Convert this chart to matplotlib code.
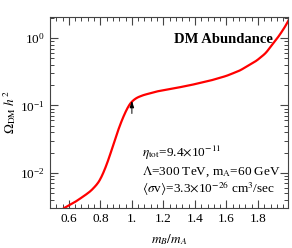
import matplotlib.pyplot as plt
import numpy as np
from matplotlib.ticker import MultipleLocator, LogLocator, NullFormatter, FixedFormatter, FixedLocator

# curve
mB = [0.57, 0.64, 0.70, 0.74, 0.78, 0.80, 0.83, 0.86, 0.89, 0.92, 0.95, 0.98, 1.00,
      1.03, 1.07, 1.16, 1.27, 1.37, 1.50, 1.60, 1.685, 1.79, 1.85, 1.89, 1.93, 1.97, 1.995]
omega = [0.0030, 0.0037, 0.0046, 0.0054, 0.0068, 0.0080, 0.0115, 0.018, 0.030, 0.048, 0.072,
         0.100, 0.115, 0.130, 0.142, 0.162, 0.180, 0.200, 0.235, 0.275, 0.330, 0.46, 0.60,
         0.80, 1.05, 1.45, 1.85]

plt.rcParams['font.family'] = ['Liberation Serif', 'DejaVu Serif']
plt.rcParams['mathtext.fontset'] = 'stix'

fig = plt.figure(figsize=(2.92, 2.48), dpi=100)
ax = fig.add_axes([0.171, 0.161, 0.815, 0.770])

# smooth in log space
xs = np.linspace(mB[0], mB[-1], 500)
ys = np.interp(xs, mB, np.log10(omega))
k = np.ones(11) / 11
ys_s = np.convolve(np.pad(ys, 5, mode='reflect', reflect_type='odd'), k, mode='valid')
ax.plot(xs, 10 ** ys_s, color='#ff0000', lw=1.6)

ax.set_yscale('log')
ax.set_xlim(0.48, 1.99)
ax.set_ylim(0.003, 2.05)

ax.xaxis.set_major_locator(FixedLocator([0.6, 0.8, 1.0, 1.2, 1.4, 1.6, 1.8]))
ax.xaxis.set_major_formatter(FixedFormatter(['0.6', '0.8', '1.', '1.2', '1.4', '1.6', '1.8']))
ax.xaxis.set_minor_locator(MultipleLocator(0.04))
ax.yaxis.set_major_locator(LogLocator(base=10, numticks=10))
ax.yaxis.set_minor_locator(LogLocator(base=10, subs=np.arange(2, 10), numticks=10))
ax.yaxis.set_minor_formatter(NullFormatter())

ax.tick_params(which='both', direction='in', top=True, right=True, labelsize=9.5, color='#444444')
ax.tick_params(which='major', length=6, width=0.8)
ax.tick_params(which='minor', length=3, width=0.7)
for s in ax.spines.values():
    s.set_color('#444444')
    s.set_linewidth(0.8)

ax.set_xlabel(r'$m_B/m_A$', fontsize=9.5, labelpad=5)
ax.set_ylabel(r'$\Omega_{\rm DM}\ h^2$', fontsize=9.5, labelpad=2)

ax.text(0.935, 0.885, 'DM Abundance', transform=ax.transAxes, ha='right', va='center',
        fontsize=10.5, fontweight='bold')
ax.text(0.387, 0.288, r'$\eta_{\rm tot}$=9.4$\times$10$^{-11}$', transform=ax.transAxes,
        fontsize=9.5, va='center')
ax.text(0.387, 0.188, r'$\Lambda$=300 TeV, m$_{\rm A}$=60 GeV', transform=ax.transAxes,
        fontsize=9.5, va='center')
ax.text(0.387, 0.100, r'$\langle\sigma$v$\rangle$=3.3$\times$10$^{-26}$ cm$^3$/sec',
        transform=ax.transAxes, fontsize=9.5, va='center')

ax.annotate('', xy=(1.0, 0.118), xytext=(1.0, 0.076),
            arrowprops=dict(arrowstyle='-|>,head_length=0.8,head_width=0.25',
                            color='black', lw=0.7, mutation_scale=5, shrinkA=0, shrinkB=0))

fig.savefig('out.png', dpi=100)
